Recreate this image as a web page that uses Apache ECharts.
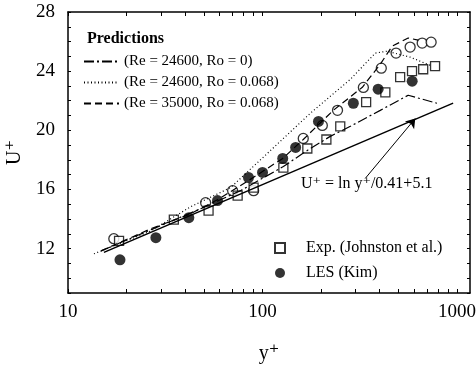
<!DOCTYPE html>
<html>
<head>
<meta charset="utf-8">
<script src="https://cdn.jsdelivr.net/npm/echarts@6/dist/echarts.min.js"></script>
<style>
  html, body { margin: 0; padding: 0; background: #fff; }
  #main { width: 476px; height: 368px; }
</style>
</head>
<body>
<div id="main"></div>
<script>
// axis ticks
var xTicks = [10, 20, 30, 40, 50, 60, 70, 80, 90, 100, 200, 300, 400, 500, 600, 700, 800, 900, 1000];
var xLabels = [10, 100, 1000];
var yTicks = [9, 10, 11, 12, 13, 14, 15, 16, 17, 18, 19, 20, 21, 22, 23, 24, 25, 26, 27, 28];
var yLabels = [12, 16, 20, 24, 28];

// Exp. (Johnston et al.) - open squares
var expX = [18.3, 35, 52.8, 74.5, 90, 128, 170, 213, 251, 341, 428, 510, 587, 670, 771];
var expY = [12.53, 13.96, 14.57, 15.58, 16.13, 17.48, 18.77, 19.38, 20.27, 21.9, 22.57, 23.59, 24.0, 24.13, 24.34];

// LES (Kim) - filled circles
var lesX = [18.5, 28.3, 41.8, 58.7, 84.7, 100, 127, 148, 194, 293, 393, 588];
var lesY = [11.24, 12.74, 14.09, 15.25, 16.81, 17.15, 18.1, 18.84, 20.6, 21.83, 22.78, 23.32];

// open circles (no legend entry)
var openX = [17.2, 51, 70.2, 90, 162, 203, 243, 330, 408, 486, 574, 662, 736];
var openY = [12.67, 15.11, 15.92, 15.92, 19.45, 20.33, 21.35, 22.9, 24.2, 25.22, 25.63, 25.9, 25.96];

// predictions
var ro0X = [14.8, 26.7, 48.1, 77.1, 128, 170, 223, 283, 403, 561, 789];
var ro0Y = [11.85, 13.28, 14.7, 15.92, 17.55, 18.64, 19.59, 20.27, 21.35, 22.37, 21.83];

var ro068X = [13.6, 26.7, 42.8, 68.6, 110, 176, 283, 380, 437, 574, 745];
var ro068Y = [11.65, 13.2, 14.84, 16.13, 18.64, 21.15, 23.45, 25.22, 25.35, 24.95, 24.34];

var re35X = [14.8, 26.7, 41.8, 58.7, 84.7, 127, 162, 231, 326, 403, 464, 561, 631];
var re35Y = [11.85, 13.35, 14.3, 15.31, 16.6, 18.1, 19.38, 21.35, 22.91, 24.47, 25.69, 26.24, 26.1];

// log law U+ = ln y+/0.41 + 5.1 (end points)
var lawX = [15.3, 955];
var lawY = [11.75, 21.84];
var arrowX = [337, 610];
var arrowY = [16.74, 20.8];

var serif = "'Liberation Serif', 'DejaVu Serif', serif";

function zip(xs, ys) {
    return xs.map(function (x, i) { return [x, ys[i]]; });
}

var myChart = echarts.init(document.getElementById('main'));

var xAxisBase = {
    type: 'log',
    logBase: 10,
    min: 10,
    max: 1166,
    axisLine: { lineStyle: { color: '#000', width: 1.5 } },
    axisTick: { inside: true, length: 4, customValues: xTicks, lineStyle: { color: '#000', width: 1 } },
    splitLine: { show: false },
    minorSplitLine: { show: false }
};
var yAxisBase = {
    type: 'value',
    min: 9,
    max: 28,
    interval: 1,
    axisLine: { show: true, lineStyle: { color: '#000', width: 1.5 } },
    axisTick: { show: true, inside: true, length: 3, customValues: yTicks, lineStyle: { color: '#000', width: 1 } },
    splitLine: { show: false }
};

var option = {
    animation: false,
    backgroundColor: '#fff',
    title: {
        text: 'Predictions',
        left: 82,
        top: 26,
        textStyle: { fontFamily: serif, fontSize: 16, fontWeight: 'bold', color: '#000' }
    },
    grid: { left: 68, right: 6, top: 12, bottom: 75, outerBoundsMode: 'none' },
    legend: [
        {
            data: ['(Re = 24600, Ro = 0)', '(Re = 24600, Ro = 0.068)', '(Re = 35000, Ro = 0.068)'],
            orient: 'vertical',
            left: 78,
            top: 49,
            itemWidth: 35,
            itemHeight: 12,
            itemGap: 6,
            itemStyle: { opacity: 0 },
            textStyle: { fontFamily: serif, fontSize: 15, color: '#000' }
        },
        {
            data: ['Exp. (Johnston et al.)', 'LES (Kim)'],
            orient: 'vertical',
            left: 269,
            top: 235,
            itemWidth: 10,
            itemHeight: 10,
            itemGap: 9,
            textStyle: { fontFamily: serif, fontSize: 16, color: '#000', padding: [0, 0, 0, 16] }
        }
    ],
    xAxis: [
        Object.assign({}, xAxisBase, {
            position: 'bottom',
            name: 'y⁺',
            nameLocation: 'middle',
            nameGap: 51,
            nameTextStyle: { fontFamily: serif, fontSize: 20, color: '#000' },
            axisLabel: {
                customValues: xLabels, fontFamily: serif, fontSize: 19, color: '#000', margin: 10,
                formatter: function (v) { return String(Math.round(v)); }
            }
        }),
        Object.assign({}, xAxisBase, {
            position: 'top',
            axisLabel: { show: false }
        })
    ],
    yAxis: [
        Object.assign({}, yAxisBase, {
            position: 'left',
            name: 'U⁺',
            nameLocation: 'middle',
            nameRotate: 90,
            nameGap: 42,
            nameTextStyle: { fontFamily: serif, fontSize: 20, color: '#000' },
            axisLabel: { customValues: yLabels, fontFamily: serif, fontSize: 19, color: '#000', margin: 13 }
        }),
        Object.assign({}, yAxisBase, {
            position: 'right',
            axisLabel: { show: false }
        })
    ],
    graphic: [
        {
            type: 'text',
            left: 301,
            top: 176,
            style: { text: 'U⁺ = ln y⁺/0.41+5.1', font: '16px ' + serif, fill: '#000' }
        }
    ],
    series: [
        {
            name: 'log law',
            type: 'line',
            data: zip(lawX, lawY),
            symbol: 'none',
            lineStyle: { color: '#000', width: 1.5, type: 'solid' },
            markLine: {
                silent: true,
                symbol: ['none', 'arrow'],
                symbolSize: 9,
                label: { show: false },
                lineStyle: { color: '#000', width: 1, type: 'solid' },
                data: [[{ coord: [arrowX[0], arrowY[0]] }, { coord: [arrowX[1], arrowY[1]] }]]
            }
        },
        {
            name: '(Re = 24600, Ro = 0)',
            type: 'line',
            data: zip(ro0X, ro0Y),
            symbol: 'none',
            itemStyle: { color: '#000' },
            lineStyle: { color: '#000', width: 1.2, type: [10, 3, 2, 3] }
        },
        {
            name: '(Re = 24600, Ro = 0.068)',
            type: 'line',
            data: zip(ro068X, ro068Y),
            symbol: 'none',
            itemStyle: { color: '#000' },
            lineStyle: { color: '#000', width: 1.2, type: [1, 2.5] }
        },
        {
            name: '(Re = 35000, Ro = 0.068)',
            type: 'line',
            data: zip(re35X, re35Y),
            symbol: 'none',
            itemStyle: { color: '#000' },
            lineStyle: { color: '#000', width: 1.2, type: [7, 4] }
        },
        {
            name: 'open',
            type: 'scatter',
            data: zip(openX, openY),
            symbol: 'circle',
            symbolSize: 10,
            itemStyle: { color: '#fff', borderColor: '#000', borderWidth: 1.3 }
        },
        {
            name: 'Exp. (Johnston et al.)',
            type: 'scatter',
            data: zip(expX, expY),
            symbol: 'rect',
            symbolSize: 9,
            itemStyle: { color: '#fff', borderColor: '#000', borderWidth: 1.3 }
        },
        {
            name: 'LES (Kim)',
            type: 'scatter',
            data: zip(lesX, lesY),
            symbol: 'circle',
            symbolSize: 11,
            itemStyle: { color: '#000' }
        }
    ]
};

myChart.setOption(option);
</script>
</body>
</html>
